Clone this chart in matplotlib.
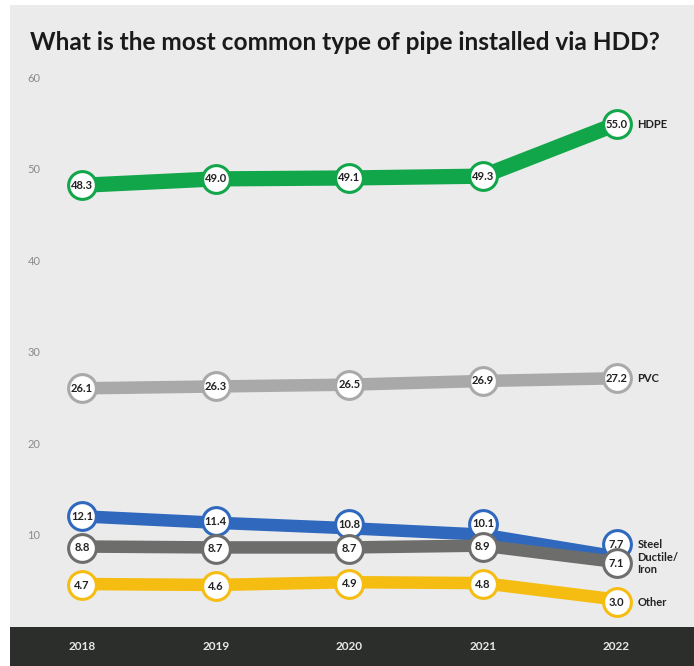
import matplotlib
matplotlib.use("Agg")
import matplotlib.pyplot as plt
from matplotlib.patches import Rectangle
from matplotlib.transforms import offset_copy

plt.rcParams['font.family'] = ['Lato', 'DejaVu Sans']

# datos
anios = ["2018", "2019", "2020", "2021", "2022"]
hdpe = [48.3, 49.0, 49.1, 49.3, 55.0]
pvc = [26.1, 26.3, 26.5, 26.9, 27.2]
acero = [12.1, 11.4, 10.8, 10.1, 7.7]
ductil = [8.8, 8.7, 8.7, 8.9, 7.1]
otro = [4.7, 4.6, 4.9, 4.8, 3.0]
marcas_y = [10, 20, 30, 40, 50, 60]

series = [
    # nombre, valores, color, grosor, desplazamiento vertical de cada circulo (pt)
    ("HDPE", hdpe, "#12a64a", 11, [0, 0, 0, 0, 0]),
    ("PVC", pvc, "#a9a9a9", 9, [0, 0, 0, 0, 0]),
    ("Steel", acero, "#2f68bd", 9, [0, 1, 3, 8, 9]),
    ("Ductile/\nIron", ductil, "#6d6e6c", 9, [-1, -1, -1, -1, -1]),
    ("Other", otro, "#f5bc12", 9, [-1, -1, -1, -1, -2]),
]

W, H = 694, 666
fig = plt.figure(figsize=(W / 100, H / 100), dpi=100)
fig.patch.set_facecolor("white")

# fondo gris y banda oscura de abajo
fig.patches.append(Rectangle((10 / W, 39 / H), 1, (H - 44) / H, transform=fig.transFigure,
                             facecolor="#ebebeb", edgecolor="none", zorder=-2))
fig.patches.append(Rectangle((10 / W, 0), 1, 39 / H, transform=fig.transFigure,
                             facecolor="#2c2e2b", edgecolor="none", zorder=-2))

ax = fig.add_axes([10 / W, 39 / H, 1 - 10 / W, (627 - 60) / H])
ax.set_facecolor("none")
ax.set_xlim(-0.54, 4.58)
ax.set_ylim(0, 62)
ax.axis("off")

x = list(range(len(anios)))

for y in marcas_y:
    ax.text(-0.36, y, str(y), ha="center", va="center", fontsize=8, color="#8a8a8a")

for nombre, vals, color, lw, dys in series:
    ax.plot(x, vals, color=color, lw=lw, solid_capstyle="butt", zorder=2)

# circulos con el valor
for nombre, vals, color, lw, dys in series:
    for i, v in enumerate(vals):
        tr = offset_copy(ax.transData, fig=fig, x=0, y=dys[i], units="points")
        ax.plot(i, v, marker="o", ms=20, mfc="white", mec=color, mew=2.2,
                transform=tr, zorder=5)
        ax.text(i, v, f"{v:.1f}", ha="center", va="center", fontsize=8,
                fontweight="bold", color="#222222", transform=tr, zorder=6)
    tr = offset_copy(ax.transData, fig=fig, x=15, y=dys[-1], units="points")
    ax.text(x[-1], vals[-1], nombre, ha="left", va="center", fontsize=8,
            fontweight="bold", color="#222222", transform=tr, zorder=6,
            linespacing=1.1)

# anios en la banda
for i, a in enumerate(anios):
    xf = (10 + (i + 0.54) / 5.12 * (W - 10)) / W
    fig.text(xf, 20 / H, a, ha="center", va="center", fontsize=8.5,
             fontweight="bold", color="#e8e8e8")

fig.text(30 / W, 1 - 42 / H, "What is the most common type of pipe installed via HDD?",
         ha="left", va="center", fontsize=17.6, fontweight="bold", color="#1a1a1a")

fig.savefig("out.png", dpi=100)
